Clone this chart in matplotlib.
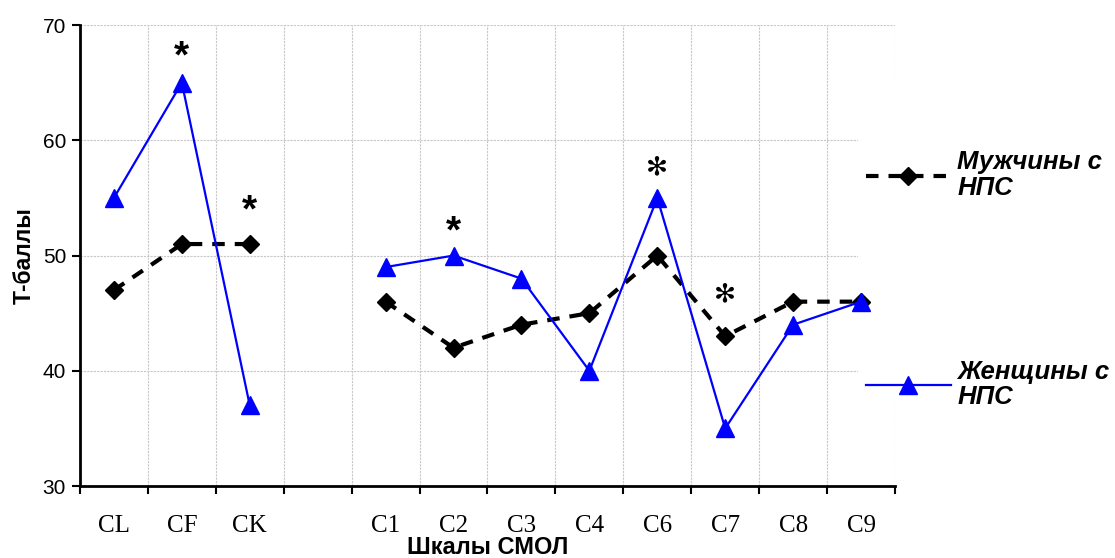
import numpy as np
import matplotlib.pyplot as plt
from matplotlib.patches import Rectangle
from matplotlib.ticker import FixedLocator, NullFormatter

# data
scales = ["CL", "CF", "CK", "", "C1", "C2", "C3", "C4", "C6", "C7", "C8", "C9"]
men = [47, 51, 51, np.nan, 46, 42, 44, 45, 50, 43, 46, 46]
women = [55, 65, 37, np.nan, 49, 50, 48, 40, 55, 35, 44, 46]
star_scales = ["CF", "CK", "C2", "C6", "C7"]
star_y = [67.8, 54.4, 52.6, 57.7, 46.6]

x = np.arange(len(scales))

fig = plt.figure(figsize=(11.15, 5.58), dpi=100)
ax = fig.add_axes([0.0717, 0.129, 0.7310, 0.826])

ax.plot(x, men, color="black", lw=3, dashes=(3, 2.4), marker="D", ms=9,
        label="Мужчины с\nНПС", zorder=6)
ax.plot(x, women, color="#0000ff", lw=1.6, marker="^", ms=13,
        label="Женщины с\nНПС", zorder=7)

# asterisks over significant differences
for s, y in zip(star_scales, star_y):
    if s in ("C6", "C7"):
        ax.text(scales.index(s), y, "\u273b", ha="center", va="center",
                fontsize=19, family="DejaVu Sans", color="black")
    else:
        ax.text(scales.index(s), y - 0.6, "*", ha="center", va="center",
                fontsize=28, fontweight="bold", family="Liberation Sans")

ax.set_xlim(-0.5, len(scales) - 0.5)
ax.set_ylim(30, 70)
ax.set_yticks([30, 40, 50, 60, 70])
ax.xaxis.set_major_locator(FixedLocator(np.arange(-0.5, len(scales), 1.0)))
ax.xaxis.set_major_formatter(NullFormatter())
ax.xaxis.set_minor_locator(FixedLocator(x))
ax.set_xticklabels(scales, minor=True, family="Liberation Serif", fontsize=18)
ax.tick_params(axis="x", which="major", direction="out", length=6, width=1.5)
ax.tick_params(axis="x", which="minor", length=0, pad=21)
ax.tick_params(axis="y", direction="out", length=6, width=1.5, labelsize=15,
               pad=4)
for lab in ax.get_yticklabels():
    lab.set_family("Liberation Sans")

ax.grid(True, which="major", color="#c8c8c8", lw=0.8, ls=(0, (2, 1)))
ax.set_axisbelow(True)
for side in ("top", "right"):
    ax.spines[side].set_visible(False)
for side in ("left", "bottom"):
    ax.spines[side].set_linewidth(2)

ax.set_ylabel("Т-баллы", fontsize=16.5, fontweight="bold",
              family="Liberation Sans", labelpad=5)
ax.set_xlabel("Шкалы СМОЛ", fontsize=17, fontweight="bold",
              family="Liberation Sans")
ax.xaxis.set_label_coords(0.5, -0.108)

# white legend area covering the grid on the right, like the original
ax.add_patch(Rectangle((0.955, 0.2), 0.1, 0.687, transform=ax.transAxes,
                       facecolor="white", edgecolor="none", clip_on=False,
                       zorder=1))

leg = ax.legend(loc="upper left", bbox_to_anchor=(0.955, 0.745), frameon=False,
                handlelength=3.3, handletextpad=0.25, labelspacing=6.2,
                borderpad=0.3, borderaxespad=0,
                prop={"family": "Liberation Sans", "weight": "bold",
                      "style": "italic", "size": 18.5})
for t in leg.get_texts():
    t.set_linespacing(1.1)
leg.set_zorder(5)

fig.savefig("out.png", dpi=100)
